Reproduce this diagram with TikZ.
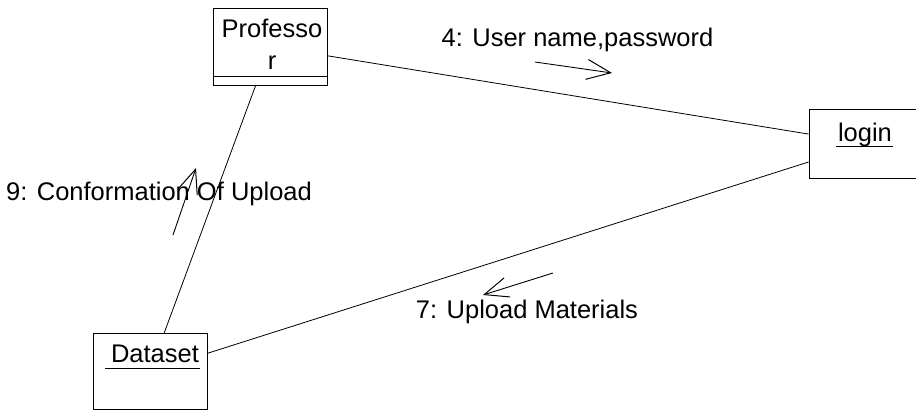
\documentclass[tikz,border=0pt]{standalone}
\usepackage{fontspec}
\setmainfont{Liberation Sans}
\usetikzlibrary{arrows.meta}
\begin{document}
\begin{tikzpicture}[x=1pt,y=-1pt,
  obj/.style={draw=black, line width=0.8pt, rectangle, inner sep=0pt},
  link/.style={draw=black, line width=0.8pt},
  msg/.style={line width=0.9pt, -{Straight Barb[length=24pt,width=20pt,line width=1pt]}},
  lbl/.style={inner sep=0pt, anchor=base, font=\fontsize{25.5}{32}\selectfont},
]
\useasboundingbox (0,0) rectangle (916,411);

% objects
\node[obj, minimum width=114pt, minimum height=77pt] (prof) at (270,46.5) {};
\node[obj, minimum width=116pt, minimum height=69pt] (login) at (867,143.5) {};
\node[obj, minimum width=114pt, minimum height=76pt] (data) at (150,371.5) {};

% object names (underlined)
\node[lbl] (profA) at (272,38) {Professo};
\node[lbl] (profB) at (272,70) {r};
\draw[link] (prof.west |- 0,76) coordinate (pu1) -- (prof.east |- 0,76) coordinate (pu2);
\node[lbl] (logint) at (865,142) {login};
\draw[link] (836,146) coordinate (lu1) -- (893,146) coordinate (lu2);
\node[lbl] (datat) at (155,363) {Dataset};
\draw[link] (105,368) coordinate (du1) -- (200,368) coordinate (du2);

% links
\draw[link] (prof) -- (login);
\draw[link] (data) -- (login);
\draw[link] (prof) -- (data);

% messages
\coordinate (m4a) at (535,62);
\coordinate (m4b) at (612,73);
\draw[msg] (m4a) -- (m4b);
\node[lbl] (m4) at (577.5,47) {4: User name,password};

\coordinate (m7a) at (553,273);
\coordinate (m7b) at (483,295);
\draw[msg] (m7a) -- (m7b);
\node[lbl] (m7) at (527,319) {7: Upload Materials};

\coordinate (m9a) at (173,235);
\coordinate (m9b) at (196,168);
\draw[msg] (m9a) -- (m9b);
\node[lbl] (m9) at (159,201) {9: Conformation Of Upload};
\end{tikzpicture}
\end{document}
